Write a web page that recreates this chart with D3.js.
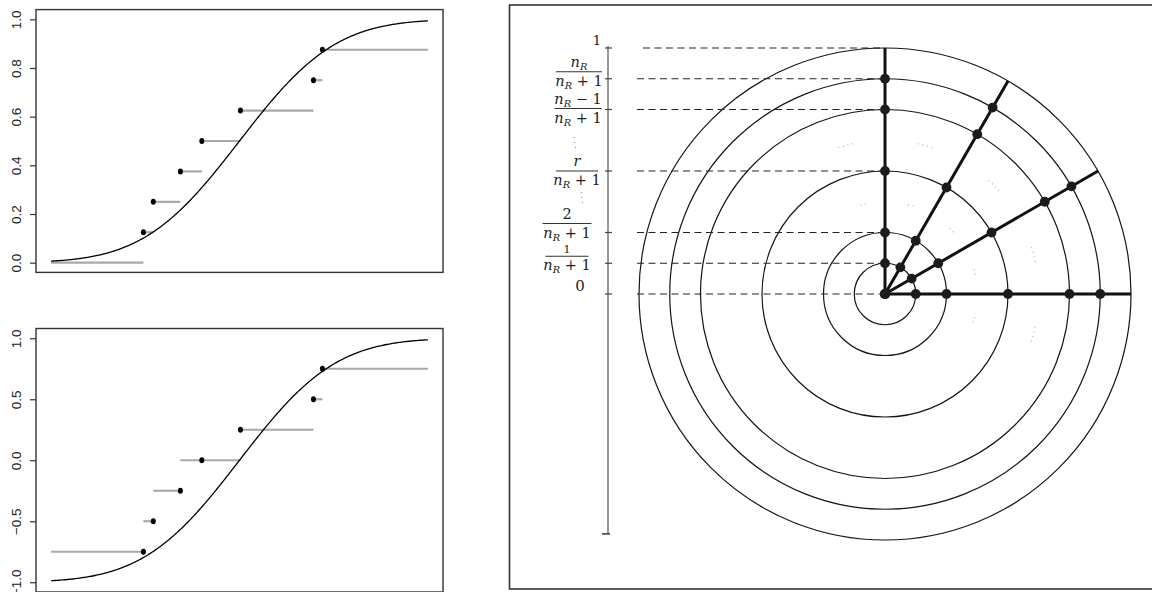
<!DOCTYPE html>
<html><head><meta charset="utf-8">
<script src="https://cdn.jsdelivr.net/npm/d3@7"></script>
<style>body{margin:0;background:#fff}svg{display:block}</style>
</head><body><svg id="c" width="1152" height="592"></svg>
<script>
// ---------- data ----------
const sampleX = [-2.04, -1.83, -1.255, -0.80, 0.02, 1.57, 1.76];
const cdfLevels = [0.125, 0.25, 0.375, 0.5, 0.625, 0.75, 0.875];
const signedLevels = [-0.75, -0.5, -0.25, 0, 0.25, 0.5, 0.75];
const cdfTicks = [0, 0.2, 0.4, 0.6, 0.8, 1.0];
const signedTicks = [-1, -0.5, 0, 0.5, 1];
const xDomain = [-4, 4];
const curveSd = 1.6;

const nR = 7;
const ringRanks = [1, 2, 4, 6, 7, 8];
const rayAngles = [0, 30, 60, 90];
const dotRanks = [0, 1, 2, 4, 6, 7];
const axisRanks = [0, 1, 2, 4, 6, 7, 8];
const omittedRanks = [3, 5];
const omittedAngles = [-15, 15, 45, 75, 105];
const fracRanks = [7, 6, 4, 2, 1];
const fracNumerators = [
  [{t:"n",i:1},{t:"R",i:1,s:1}],
  [{t:"n",i:1},{t:"R",i:1,s:1},{t:" − 1"}],
  [{t:"r",i:1}],
  [{t:"2"}],
  [{t:"1"}]
];
const fracDenominator = [{t:"n",i:1},{t:"R",i:1,s:1},{t:" + 1"}];

// ---------- helpers ----------
function erf(x){const s=Math.sign(x);x=Math.abs(x);const t=1/(1+0.3275911*x);
 const y=1-(((((1.061405429*t-1.453152027)*t)+1.421413741)*t-0.284496736)*t+0.254829592)*t*Math.exp(-x*x);return s*y;}
const Phi = x => 0.5*(1+erf(x/(curveSd*Math.SQRT2)));

const svg = d3.select("#c");

function rPad(dom){const d=(dom[1]-dom[0])*0.04;return [dom[0]-d, dom[1]+d];}

function panel(y0, y1, yDom, ticks, levels, fn, segFn){
  const x = d3.scaleLinear().domain(rPad(xDomain)).range([36, 443]);
  const y = d3.scaleLinear().domain(rPad(yDom)).range([y1, y0]);
  const g = svg.append("g");
  const segs = segFn();
  g.selectAll("line.seg").data(segs).join("line")
    .attr("x1", d=>x(d.a)).attr("x2", d=>x(d.b))
    .attr("y1", d=>y(d.v)).attr("y2", d=>y(d.v))
    .attr("stroke", "#a8a8a8").attr("stroke-width", 2.2);
  const pts = d3.range(0, 301).map(i => xDomain[0] + (xDomain[1]-xDomain[0])*i/300);
  g.append("path").datum(pts)
    .attr("d", d3.line().x(d=>x(d)).y(d=>y(fn(d))))
    .attr("fill","none").attr("stroke","#000").attr("stroke-width",1.3);
  g.selectAll("ellipse").data(sampleX).join("ellipse")
    .attr("cx", d=>x(d)).attr("cy", (d,i)=>y(levels[i]))
    .attr("rx", 2.5).attr("ry", 3).attr("fill","#000");
  const ax = g.append("g").attr("transform", "translate(36,0)")
    .call(d3.axisLeft(y).tickValues(ticks).tickSize(6).tickFormat(d3.format(".1f")));
  ax.select(".domain").remove();
  ax.selectAll(".tick line").attr("stroke","#333").attr("stroke-width",1.2);
  ax.selectAll(".tick text").attr("x",0).attr("y",0).attr("dy","0.36em")
    .attr("transform","translate(-20,0) rotate(-90)")
    .attr("text-anchor","middle").attr("font-family","Liberation Sans, Arial, sans-serif")
    .attr("font-size",13.5).attr("fill","#222");
  g.append("rect").attr("x",36).attr("y",y0).attr("width",443-36).attr("height",y1-y0)
    .attr("fill","none").attr("stroke","#333").attr("stroke-width",1.4);
}

panel(9.6, 272.4, [0,1], cdfTicks, cdfLevels, Phi, () => {
  const s = [{a:xDomain[0], b:sampleX[0], v:0}];
  sampleX.forEach((sx,i)=> s.push({a:sx, b: i<sampleX.length-1 ? sampleX[i+1] : xDomain[1], v:cdfLevels[i]}));
  return s;
});
panel(328.5, 592, [-1,1], signedTicks, signedLevels, d => 2*Phi(d)-1, () => {
  const s = [];
  sampleX.forEach((sx,i)=>{
    const prev = i>0 ? sampleX[i-1] : xDomain[0];
    const next = i<sampleX.length-1 ? sampleX[i+1] : xDomain[1];
    const v = signedLevels[i];
    if (v < 0) s.push({a:prev, b:sx, v});
    else if (v > 0) s.push({a:sx, b:next, v});
    else s.push({a:prev, b:next, v});
  });
  return s;
});

// ---------- right diagram ----------
const cx = 885, cy = 294, R = 246;
const r = d3.scaleLinear().domain([0, nR+1]).range([0, R]);
const rad = deg => (90 - deg) * Math.PI / 180;
const levelY = k => cy - r(k);

const rg = svg.append("g");
rg.append("rect").attr("x",509.5).attr("y",5).attr("width",700).attr("height",584)
  .attr("fill","none").attr("stroke","#333").attr("stroke-width",1.6);

const pg = rg.append("g").attr("transform",`translate(${cx},${cy})`);
pg.selectAll("circle.ring").data(ringRanks).join("circle")
  .attr("r", d=>r(d)).attr("fill","none").attr("stroke","#151515").attr("stroke-width",1.2);
const hints = [];
omittedRanks.forEach(k => omittedAngles.forEach(a => hints.push({k, a})));
pg.selectAll("path.hint").data(hints).join("path")
  .attr("d", d => d3.lineRadial()(d3.range(0,5).map(j => [rad(d.a - 3 + j*1.5), r(d.k)])))
  .attr("fill","none").attr("stroke","#b5b5b5").attr("stroke-width",1.1).attr("stroke-dasharray","1.2,3.5");
rg.selectAll("line.dash").data(axisRanks).join("line")
  .attr("x1", d => d === nR+1 ? 643 : 637).attr("x2", cx)
  .attr("y1", d=>levelY(d)).attr("y2", d=>levelY(d))
  .attr("stroke","#222").attr("stroke-width",1.2).attr("stroke-dasharray","7,4.5");
pg.selectAll("path.ray").data(rayAngles).join("path")
  .attr("d", a => d3.lineRadial()([[rad(a),0],[rad(a),R]]))
  .attr("stroke","#111").attr("stroke-width",3).attr("fill","none");
const dots = [];
rayAngles.forEach(a => dotRanks.forEach(k => dots.push(d3.pointRadial(rad(a), r(k)))));
pg.selectAll("circle.dot").data(dots).join("circle")
  .attr("cx", d=>d[0]).attr("cy", d=>d[1]).attr("r", 4.9).attr("fill","#1c1c1c");

const axX = 608;
rg.append("line").attr("x1",axX).attr("x2",axX).attr("y1",levelY(nR+1)-2).attr("y2",levelY(-7.8))
  .attr("stroke","#555").attr("stroke-width",1.2);
rg.selectAll("line.atick").data(axisRanks).join("line")
  .attr("x1",axX-3).attr("x2",axX+4).attr("y1",d=>levelY(d)).attr("y2",d=>levelY(d))
  .attr("stroke","#444").attr("stroke-width",1.2);
rg.append("line").attr("x1",axX-6).attr("x2",axX+2).attr("y1",levelY(-7.8)).attr("y2",levelY(-7.8))
  .attr("stroke","#444").attr("stroke-width",1.6);

const serif = "DejaVu Serif, Liberation Serif, serif";
function mathText(parent, parts, x, y, size){
  const t = parent.append("text").attr("x",x).attr("y",y).attr("text-anchor","middle")
    .attr("font-family",serif).attr("font-size",size).attr("fill","#222");
  let shifted = false;
  parts.forEach(p => {
    const sp = t.append("tspan").text(p.t);
    if (p.i) sp.attr("font-style","italic");
    if (p.s && !shifted){ sp.attr("font-size", size*0.68).attr("dy", size*0.22); shifted = true; }
    else if (!p.s && shifted){ sp.attr("dy", -size*0.22); shifted = false; }
  });
  return t;
}
const fracDx = [579, 578, 577, 567, 567];
const fracDy = [-7, -1, 0, -9, -7];
const fracW  = [46, 47, 42, 49, 43];
const numSize = [14.5, 14.5, 14.5, 14.5, 11];
fracRanks.forEach((k,i) => {
  const by = levelY(k) + fracDy[i];
  const xc = fracDx[i];
  mathText(rg, fracNumerators[i], xc, by - (i===4 ? 3 : 5), numSize[i]);
  rg.append("line").attr("x1",xc-fracW[i]/2).attr("x2",xc+fracW[i]/2).attr("y1",by).attr("y2",by)
    .attr("stroke","#333").attr("stroke-width",1);
  mathText(rg, fracDenominator, xc, by + 14, 14.5);
});
mathText(rg, [{t:"1"}], 597, levelY(nR+1) - 3, 13);
mathText(rg, [{t:"0"}], 580, levelY(0) - 3, 15);
[[575, 137, 152], [582, 192, 207]].forEach(([x0, ya, yb]) => {
  rg.append("line").attr("x1",x0-1).attr("x2",x0+1).attr("y1",ya).attr("y2",yb)
    .attr("stroke","#777").attr("stroke-width",1).attr("stroke-dasharray","1,4");
});
</script></body></html>
